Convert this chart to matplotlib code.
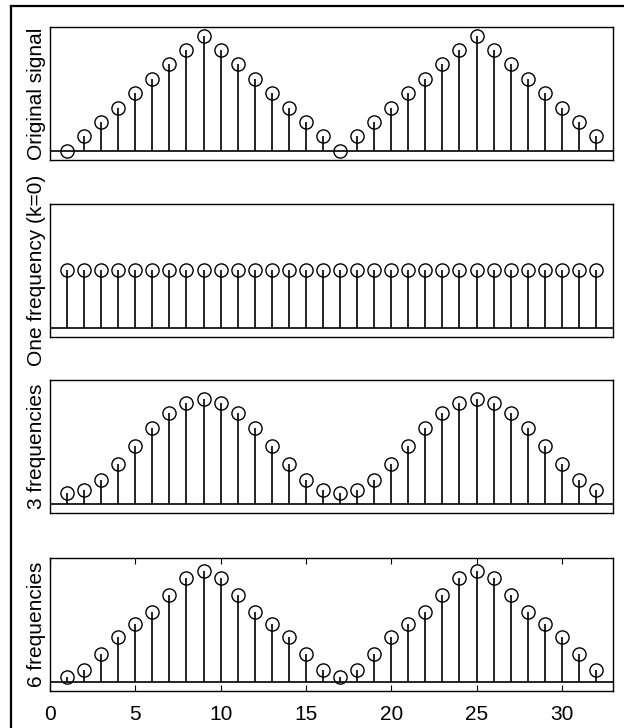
import numpy as np
import matplotlib
matplotlib.use('Agg')
import matplotlib.pyplot as plt
from matplotlib.lines import Line2D

plt.rcParams['font.family'] = ['Liberation Sans', 'DejaVu Sans']

n = list(range(1, 33))

original = [0, 1, 2, 3, 4, 5, 6, 7, 8, 7, 6, 5, 4, 3, 2, 1,
            0, 1, 2, 3, 4, 5, 6, 7, 8, 7, 6, 5, 4, 3, 2, 1]
one_freq = [4] * 32
three_freq = [0.72, 0.97, 1.68, 2.74, 4.0, 5.26, 6.32, 7.03, 7.28, 7.03, 6.32, 5.26, 4.0, 2.74, 1.68, 0.97,
              0.72, 0.97, 1.68, 2.74, 4.0, 5.26, 6.32, 7.03, 7.28, 7.03, 6.32, 5.26, 4.0, 2.74, 1.68, 0.97]
six_freq = [0.31, 0.81, 1.96, 3.12, 4.0, 4.88, 6.04, 7.19, 7.69, 7.19, 6.04, 4.88, 4.0, 3.12, 1.96, 0.81,
            0.31, 0.81, 1.96, 3.12, 4.0, 4.88, 6.04, 7.19, 7.69, 7.19, 6.04, 4.88, 4.0, 3.12, 1.96, 0.81]

series = [original, one_freq, three_freq, six_freq]
labels = ['Original signal', 'One frequency (k=0)', '3 frequencies', '6 frequencies']
xticks = [0, 5, 10, 15, 20, 25, 30]

fig = plt.figure(figsize=(6.24, 7.28), dpi=100)

left, width, height = 50 / 624, 563 / 624, 133 / 728
bottoms = [1 - 160 / 728, 1 - 337 / 728, 1 - 513 / 728, 1 - 691 / 728]

for i, (vals, lab) in enumerate(zip(series, labels)):
    ax = fig.add_axes([left, bottoms[i], width, height])
    ml, sl, bl = ax.stem(n, vals, linefmt='k-', markerfmt='ko', basefmt=' ')
    ml.set_markerfacecolor('none')
    ml.set_markeredgecolor('k')
    ml.set_markersize(9.5)
    ml.set_markeredgewidth(1.0)
    sl.set_linewidth(1.2)
    ax.axhline(0, color='k', lw=1.2, zorder=1)
    ax.set_xlim(0, 33)
    ax.set_ylim(-0.64, 8.6)
    ax.set_yticks([])
    ax.set_ylabel(lab, fontsize=15, labelpad=3)
    for s in ax.spines.values():
        s.set_linewidth(1.0)
    if i == 3:
        ax.set_xticks(xticks)
        ax.tick_params(axis='x', direction='in', top=True, length=4, width=0.8,
                       labelsize=15, pad=10)
    else:
        ax.set_xticks([])

# outer frame (top and left edges)
fig.add_artist(Line2D([11 / 624, 1], [1 - 6 / 728, 1 - 6 / 728], transform=fig.transFigure,
                      color='k', lw=1.6))
fig.add_artist(Line2D([11 / 624, 11 / 624], [1 - 6 / 728, 0], transform=fig.transFigure,
                      color='k', lw=1.6))

fig.savefig('out.png', dpi=100)
